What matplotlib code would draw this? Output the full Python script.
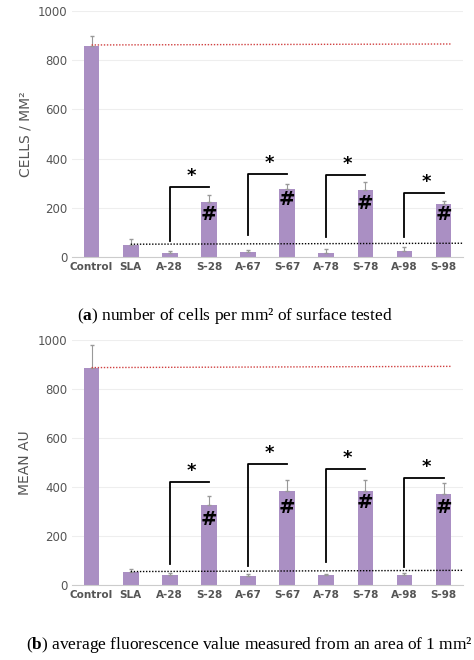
import matplotlib
matplotlib.use("Agg")
import matplotlib.pyplot as plt

plt.rcParams['mathtext.fontset'] = 'custom'
plt.rcParams['mathtext.rm'] = 'Liberation Serif'
plt.rcParams['mathtext.bf'] = 'Liberation Serif:bold'

cats = ["Control", "SLA", "A-28", "S-28", "A-67", "S-67", "A-78", "S-78", "A-98", "S-98"]
vals_a = [858, 50, 18, 222, 20, 278, 18, 273, 25, 217]
err_a = [40, 22, 8, 32, 8, 18, 14, 32, 15, 12]
vals_b = [885, 52, 42, 325, 38, 385, 42, 385, 42, 370]
err_b = [95, 15, 8, 40, 8, 45, 5, 45, 8, 45]
red_a = (862, 866); black_a = (52, 56)
red_b = (888, 893); black_b = (55, 60)
# brackets: (A index, S index, bottom, top)
br_a = [(2, 3, 65, 283), (4, 5, 90, 338), (6, 7, 80, 335), (8, 9, 80, 262)]
br_b = [(2, 3, 87, 422), (4, 5, 78, 494), (6, 7, 95, 472), (8, 9, 75, 437)]
hash_a = [171, 232, 219, 171]
hash_b = [268, 316, 336, 316]

fig = plt.figure(figsize=(4.74, 6.6), dpi=100)
color = "#aa8fc3"

def panel(rect, vals, errs, red, black, brs, hashes, ylabel, caption, cx, cy):
    ax = fig.add_axes(rect)
    x = list(range(len(cats)))
    ax.bar(x, vals, width=0.4, color=color, zorder=2)
    ax.errorbar(x, vals, yerr=[[0]*len(errs), errs], fmt='none', ecolor='#999999',
                elinewidth=0.8, capsize=1.5, zorder=3)
    ax.set_ylim(0, 1000)
    ax.set_xlim(-0.5, 9.5)
    ax.set_yticks(range(0, 1001, 200))
    ax.grid(axis='y', color='#eeeeee', linewidth=0.8, zorder=0)
    for s in ['top', 'right', 'left']:
        ax.spines[s].set_visible(False)
    ax.spines['bottom'].set_color('#cccccc')
    ax.tick_params(axis='both', length=0, colors='#555555', labelsize=8.5)
    ax.set_xticks(x)
    ax.set_xticklabels(cats, fontsize=7.5, fontweight='bold', color='#555555')
    ax.set_ylabel(ylabel, color='#555555', fontsize=10)
    ax.plot([0, 9.2], red, color='#d04040', linestyle=(0, (1, 1.2)), linewidth=1, zorder=4)
    ax.plot([1, 9.5], black, color='black', linestyle=(0, (1, 1.2)), linewidth=1, zorder=4)
    for (ia, isx, lo, hi), hy in zip(brs, hashes):
        ax.plot([ia, ia, isx], [lo, hi, hi], color='black', linewidth=1.3, zorder=5)
        ax.text((ia + isx) / 2 + 0.05, hi + 8, "*", ha='center', va='bottom', fontsize=13, fontweight='bold')
        ax.text(isx, hy, "#", ha='center', va='center', fontsize=14, fontweight='bold', zorder=6)
    fig.text(cx, cy, caption, ha='center', va='center', fontsize=12.5, family='Liberation Serif')

panel([0.152, 0.6106, 0.825, 0.3727], vals_a, err_a, red_a, black_a, br_a, hash_a,
      "CELLS / MM²", r"($\mathbf{a}$) number of cells per mm² of surface tested", 0.495, 0.521)
panel([0.152, 0.1136, 0.825, 0.371], vals_b, err_b, red_b, black_b, br_b, hash_b,
      "MEAN AU", r"($\mathbf{b}$) average fluorescence value measured from an area of 1 mm²", 0.527, 0.023)
fig.savefig("out.png", dpi=100)
